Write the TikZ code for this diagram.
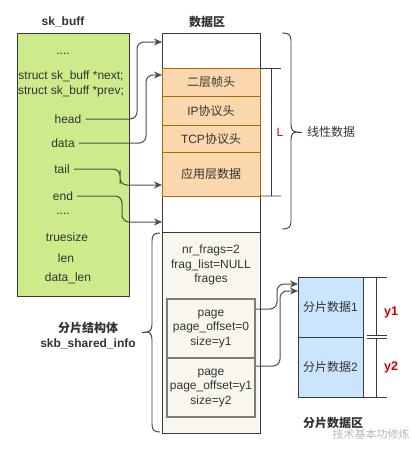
\documentclass[tikz,border=0pt]{standalone}
\usepackage{fontspec}
\setmainfont{Liberation Sans}
\newfontfamily\cjk{Noto Sans CJK SC}
\usetikzlibrary{arrows.meta}
\definecolor{txt}{HTML}{333333}
\definecolor{edge}{HTML}{36393D}
\definecolor{greenfill}{HTML}{CDEB8B}
\definecolor{orangefill}{HTML}{FAD7AC}
\definecolor{orangeedge}{HTML}{B46504}
\definecolor{creamfill}{HTML}{F9F7ED}
\definecolor{bluefill}{HTML}{CCE5FF}
\definecolor{arrc}{HTML}{4D4D4D}
\definecolor{redtxt}{HTML}{CC0000}
\definecolor{pageedge}{HTML}{7E7E74}
\tikzset{
  box/.style={draw=edge, line width=0.9pt, anchor=north west, inner sep=0pt, outer sep=0pt},
  obox/.style={draw=orangeedge, fill=orangefill, line width=0.9pt, anchor=north west, inner sep=0pt, outer sep=0pt, minimum width=98pt, text=txt, font=\fontsize{12}{14}\selectfont\cjk},
  pbox/.style={draw=pageedge, line width=1.6pt, anchor=north west, inner sep=0pt, outer sep=0pt, minimum width=88pt, minimum height=59pt},
  fbox/.style={draw=edge, fill=bluefill, line width=0.9pt, anchor=north west, inner sep=0pt, outer sep=0pt, minimum width=65pt, minimum height=60pt, text=txt, font=\fontsize{12}{14}\selectfont\cjk},
  lbl/.style={text=txt, font=\fontsize{12}{14.5}\selectfont, inner sep=1pt, align=center},
  ttl/.style={text=txt, font=\fontsize{12}{15}\selectfont\bfseries, inner sep=1pt, align=center},
  redlbl/.style={text=redtxt, font=\fontsize{12.5}{15}\selectfont\bfseries, inner sep=1pt},
  arr/.style={draw=arrc, line width=1pt, rounded corners=7pt, -{Stealth[length=8pt,width=7pt]}},
  dimline/.style={draw=edge, line width=0.9pt},
  brc/.style={draw=edge, line width=0.9pt}
}
\begin{document}
\begin{tikzpicture}[x=1pt,y=-1pt]
\useasboundingbox (0,0) rectangle (412,450);
\fill[white] (0,0) rectangle (412,450);

% titles
\node[ttl] (t1) at (63,22) {sk\_buff};
\node[ttl] (t2) at (207,22) {\cjk 数据区};

% sk_buff box
\node[box, fill=greenfill, minimum width=112pt, minimum height=263pt] (skb) at (17,33) {};
\node[lbl] (dots1) at (63,54) {....};
\node[lbl] (structs) at (71,84) {struct sk\_buff *next;\\struct sk\_buff *prev;};
\node[lbl] (head) at (68,119) {head};
\node[lbl] (data) at (63,143) {data};
\node[lbl] (tail) at (62,169) {tail};
\node[lbl] (end) at (63,196) {end};
\node[lbl] (dots2) at (63,214) {....};
\node[lbl] (truesize) at (67,237) {truesize};
\node[lbl] (len) at (66,258) {len};
\node[lbl] (datalen) at (68,278) {data\_len};

% data area
\node[box, fill=white, minimum width=98pt, minimum height=199pt] (darea) at (162,33) {};
\node[obox, minimum height=28.7pt] (r1) at (162,68) {二层帧头};
\node[obox, minimum height=29pt] (r2) at (162,96.7) {{\fontspec{Liberation Sans}IP}协议头};
\node[obox, minimum height=27pt] (r3) at (162,125.7) {{\fontspec{Liberation Sans}TCP}协议头};
\node[obox, minimum height=43.3pt] (r4) at (162,152.7) {应用层数据};

% shared info
\node[box, fill=creamfill, minimum width=98pt, minimum height=201pt] (shinfo) at (162,232) {};
\node[lbl] (frinfo) at (211,265) {nr\_frags=2\\frag\_list=NULL\\frages};
\node[pbox] (p1) at (167,299) {};
\node[pbox] (p2) at (167,358) {};
\node[lbl] (p1t) at (211,329) {page\\page\_offset=0\\size=y1};
\node[lbl] (p2t) at (211,388) {page\\page\_offset=y1\\size=y2};

% fragment data
\node[fbox] (f1) at (298,277) {分片数据{\fontspec{Liberation Sans}1}};
\node[fbox] (f2) at (298,337) {分片数据{\fontspec{Liberation Sans}2}};
\node[ttl] (fttl) at (333,423) {\cjk 分片数据区};
\node[text=gray!55, font=\fontsize{11}{13}\selectfont\cjk, inner sep=0pt] (wm) at (371,434) {技术基本功修炼};

% labels
\node[ttl] (shl) at (88,335.5) {{\cjk 分片结构体}\\skb\_shared\_info};
\node[lbl] (lin) at (331,132) {\cjk 线性数据};
\node[text=redtxt, font=\fontsize{12}{14}\selectfont, inner sep=1pt] (L) at (280,132) {L};
\node[redlbl] (y1) at (391,312) {y1};
\node[redlbl] (y2) at (391,367) {y2};

% connector targets
\coordinate (tHead) at (162,42);
\coordinate (tData) at (162,75);
\coordinate (tTail) at (162,185);
\coordinate (tEnd) at (162,222);
\coordinate (tF1) at (298,284);
\coordinate (tF2) at (298,291);

% connectors
\draw[arr] ([xshift=3pt]head.east) -| (137,80) |- (tHead);
\draw[arr] ([xshift=3pt]data.east) -| (146,110) |- (tData);
\draw[arr] ([xshift=3pt]tail.east) -| (120,177) |- (tTail);
\draw[arr] ([xshift=3pt]end.east) -| (122,210) |- (tEnd);
\draw[arr] (p1.north east |- 0,309) -| (277,296) |- (tF1);
\draw[arr] (p2.north east |- 0,366) -| (280,330) |- (tF2);

% L marker
\draw[dimline] (r1.north east) -- (281,68);
\draw[dimline] (r4.south east) -- (281,196);
\draw[dimline] (271,68) -- (271,196);

% y1 / y2 markers
\draw[dimline] (f1.north east) -- (387,277);
\draw[dimline] (376,277) -- (376,335);
\draw[dimline] (367,335) -- (387,335);
\draw[dimline] (367,338) -- (387,338);
\draw[dimline] (376,338) -- (376,397);
\draw[dimline] (f2.south east) -- (387,397);

% right brace (linear data)
\draw[brc] (282,33) .. controls (289,33) and (291,35) .. (291,41) -- (291,124)
  .. controls (291,130) and (293,132) .. (297,132)
  .. controls (293,132) and (291,134) .. (291,140) -- (291,221)
  .. controls (291,227) and (289,229) .. (282,229);
\draw[brc] (297,132) -- (302,132);

% left brace (shared info)
\draw[brc] (160,233) .. controls (154,233) and (152,235) .. (152,241) -- (152,324)
  .. controls (152,330) and (150,332) .. (146,332)
  .. controls (150,332) and (152,334) .. (152,340) -- (152,424)
  .. controls (152,430) and (154,432) .. (160,432);
\draw[brc] (146,332) -- (142,332);
\end{tikzpicture}
\end{document}
